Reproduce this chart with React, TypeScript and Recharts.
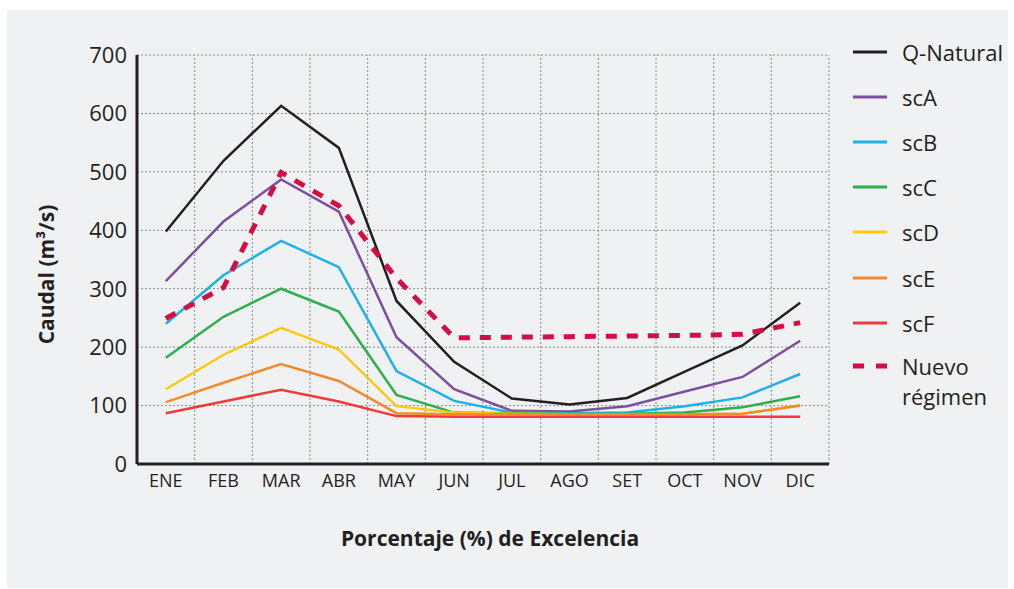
import React from 'react';
import {
  LineChart,
  Line,
  XAxis,
  YAxis,
  CartesianGrid,
  ReferenceLine,
  Label,
} from 'recharts';

const months = ['ENE', 'FEB', 'MAR', 'ABR', 'MAY', 'JUN', 'JUL', 'AGO', 'SET', 'OCT', 'NOV', 'DIC'];

const qNatural = [398, 519, 613, 541, 279, 175, 112, 102, 113, 158, 203, 276];
const scA = [313, 415, 487, 432, 217, 128, 91, 90, 99, 124, 149, 211];
const scB = [240, 323, 382, 337, 159, 108, 88, 87, 88, 99, 114, 154];
const scC = [182, 252, 300, 261, 118, 88, 87, 86, 86, 88, 97, 116];
const scD = [128, 187, 233, 196, 99, 88, 86, 85, 85, 85, 86, 100];
const scE = [106, 139, 171, 142, 87, 85, 85, 85, 85, 85, 86, 100];
const scF = [87, 107, 127, 107, 82, 81, 81, 81, 81, 81, 81, 81];
const nuevo = [249, 302, 499, 442, 318, 216, 217, 218, 219, 220, 222, 242];

const yTicks = [0, 100, 200, 300, 400, 500, 600, 700];
const bandEdges = [1, 2, 3, 4, 5, 6, 7, 8, 9, 10, 11, 12];
const tickCenters = months.map((_, i) => i + 0.5);

const SERIES = [
  { key: 'qNatural', name: 'Q-Natural', color: '#231f20', values: qNatural },
  { key: 'scA', name: 'scA', color: '#7a4f9e', values: scA },
  { key: 'scB', name: 'scB', color: '#1eb1e7', values: scB },
  { key: 'scC', name: 'scC', color: '#2bb04c', values: scC },
  { key: 'scD', name: 'scD', color: '#fdc90f', values: scD },
  { key: 'scE', name: 'scE', color: '#f58a2d', values: scE },
  { key: 'scF', name: 'scF', color: '#ee3b36', values: scF },
];
const NUEVO_COLOR = '#d40d45';

const FONT = '"Open Sans", sans-serif';
const TEXT = '#231f20';

const data = months.map((m, i) => {
  const row: any = { x: i + 0.5, month: m, nuevo: nuevo[i] };
  SERIES.forEach(s => {
    row[s.key] = s.values[i];
  });
  return row;
});

// legend drawn beside the chart so it doesn't eat into the plot width
function SideLegend() {
  return (
    <div
      style={{
        position: 'absolute',
        left: 852,
        top: 29,
        fontFamily: FONT,
        color: TEXT,
        fontSize: 22,
      }}
    >
      {SERIES.map(s => (
        <div key={s.key} style={{ height: 45.2, display: 'flex', alignItems: 'center' }}>
          <svg width={50} height={10}>
            <line x1={1} y1={5} x2={35} y2={5} stroke={s.color} strokeWidth={3} />
          </svg>
          <span>{s.name}</span>
        </div>
      ))}
      <div style={{ display: 'flex', alignItems: 'flex-start', lineHeight: '30px', marginTop: 6 }}>
        <svg width={50} height={30}>
          <line x1={1} y1={15} x2={35} y2={15} stroke={NUEVO_COLOR} strokeWidth={5} strokeDasharray="11 12" />
        </svg>
        <span>
          Nuevo
          <br />
          régimen
        </span>
      </div>
    </div>
  );
}

export default function App() {
  return (
    <div style={{ position: 'absolute', left: 0, top: 0, width: 1014, height: 589, background: '#fff' }}>
      <div
        style={{ position: 'absolute', left: 7, top: 10, width: 1001, height: 578, background: '#f0f1f3' }}
      />
      <div style={{ position: 'absolute', left: 0, top: 0 }}>
        <LineChart
          width={1014}
          height={589}
          data={data}
          margin={{ top: 55, right: 185, bottom: 35, left: 37 }}
          style={{ fontFamily: FONT }}
        >
          <CartesianGrid vertical={false} stroke="#8a8a8a" strokeDasharray="2 2" strokeWidth={1} />
          {bandEdges.map(v => (
            <ReferenceLine key={v} x={v} stroke="#8a8a8a" strokeDasharray="2 2" strokeWidth={1} />
          ))}
          <XAxis
            dataKey="x"
            type="number"
            domain={[0, 12]}
            ticks={tickCenters}
            tickFormatter={(v: number) => months[Math.floor(v)]}
            interval={0}
            height={90}
            axisLine={{ stroke: TEXT, strokeWidth: 3 }}
            tickLine={false}
            tick={{ fill: TEXT, fontSize: 18, fontFamily: FONT }}
            tickMargin={4}
          >
            <Label
              value="Porcentaje (%) de Excelencia"
              position="insideBottom"
              offset={8}
              dx={7}
              style={{ fill: TEXT, fontSize: 21, fontWeight: 700, fontFamily: FONT }}
            />
          </XAxis>
          <YAxis
            type="number"
            domain={[0, 700]}
            ticks={yTicks}
            interval={0}
            width={100}
            axisLine={{ stroke: TEXT, strokeWidth: 3 }}
            tickLine={false}
            tick={{ fill: TEXT, fontSize: 22, fontFamily: FONT }}
            tickMargin={4}
          >
            <Label
              content={(props: any) => {
                const vb = props.viewBox;
                const cx = vb.x + 9;
                const cy = vb.y + vb.height / 2 + 15;
                return (
                  <text
                    x={cx}
                    y={cy}
                    transform={`rotate(-90 ${cx} ${cy})`}
                    textAnchor="middle"
                    dominantBaseline="central"
                    style={{ fill: TEXT, fontSize: 21, fontWeight: 700, fontFamily: FONT }}
                  >
                    Caudal (m³/s)
                  </text>
                );
              }}
            />
          </YAxis>
          {SERIES.map(s => (
            <Line
              key={s.key}
              dataKey={s.key}
              name={s.name}
              type="linear"
              stroke={s.color}
              strokeWidth={2.5}
              dot={false}
              activeDot={false}
              isAnimationActive={false}
            />
          ))}
          <Line
            dataKey="nuevo"
            name="Nuevo régimen"
            type="linear"
            stroke={NUEVO_COLOR}
            strokeWidth={5}
            strokeDasharray="11 10"
            dot={false}
            activeDot={false}
            isAnimationActive={false}
          />
        </LineChart>
      </div>
      <SideLegend />
    </div>
  );
}
